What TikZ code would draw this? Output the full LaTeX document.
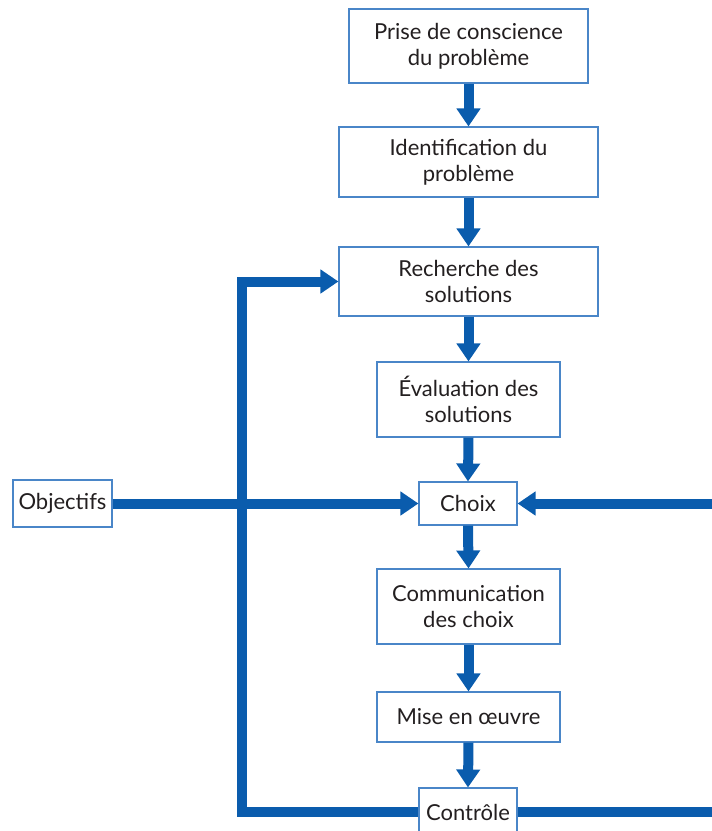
\documentclass[tikz,border=0pt]{standalone}
\usepackage{fontspec}
\setmainfont{Lato}
\usetikzlibrary{arrows.meta}
\definecolor{flowblue}{HTML}{0A5CAD}
\definecolor{boxblue}{HTML}{4A86C8}
\definecolor{ink}{HTML}{231F20}
\begin{document}
\begin{tikzpicture}[x=1pt,y=-1pt,
  stepbox/.style={draw=boxblue,line width=1.1pt,fill=white,text=ink,
    align=center,inner sep=0pt,
    font=\fontsize{22}{26}\selectfont},
  flow/.style={draw=flowblue,line width=10pt,
    -{Triangle[width=23pt,length=18pt]}},
  link/.style={draw=flowblue,line width=10pt}]
\useasboundingbox (0,0) rectangle (712,831);
\clip (0,0) rectangle (712,831);

% process steps
\node[stepbox,minimum width=239pt,minimum height=74pt] (prise) at (468.5,46) {Prise de conscience\\du problème};
\node[stepbox,minimum width=259pt,minimum height=70pt] (ident) at (468.5,162) {Identification du\\problème};
\node[stepbox,minimum width=259pt,minimum height=69pt] (rech) at (468.5,281.5) {Recherche des\\solutions};
\node[stepbox,minimum width=183pt,minimum height=75pt] (eval) at (468.5,399.5) {Évaluation des\\solutions};
\node[stepbox,minimum width=98pt,minimum height=43pt] (choix) at (468,503.5) {Choix};
\node[stepbox,minimum width=183pt,minimum height=75pt] (comm) at (468.5,606.5) {Communication\\des choix};
\node[stepbox,minimum width=183pt,minimum height=50pt] (mise) at (468.5,717) {Mise en œuvre};
\node[stepbox,minimum width=98pt,minimum height=48pt] (ctrl) at (468,812) {Contrôle};
\node[stepbox,minimum width=99pt,minimum height=47pt] (obj) at (62.5,503.5) {Objectifs};

% free ends and the feedback column
\coordinate (loopx) at (242,0);
\coordinate (rightin) at (712,503.5);
\coordinate (rightout) at (712,812);

% main chain
\draw[flow] (prise.south) -- (ident.north);
\draw[flow] (ident.south) -- (rech.north);
\draw[flow] (rech.south) -- (eval.north);
\draw[flow] (eval.south) -- (choix.north);
\draw[flow] (choix.south) -- (comm.north);
\draw[flow] (comm.south) -- (mise.north);
\draw[flow] (mise.south) -- (ctrl.north);

% inputs to the choice
\draw[flow] (obj.east) -- (choix.west);
\draw[flow] (rightin) -- (choix.east);

% feedback from control back to the search for solutions
\draw[flow] (ctrl.west) -- (ctrl.west -| loopx) -- (loopx |- rech.west) -- (rech.west);
\draw[link] (ctrl.east) -- (rightout);

% redraw the box that the lines pass over
\node[stepbox,minimum width=98pt,minimum height=48pt] at (ctrl) {Contrôle};
\end{tikzpicture}
\end{document}
